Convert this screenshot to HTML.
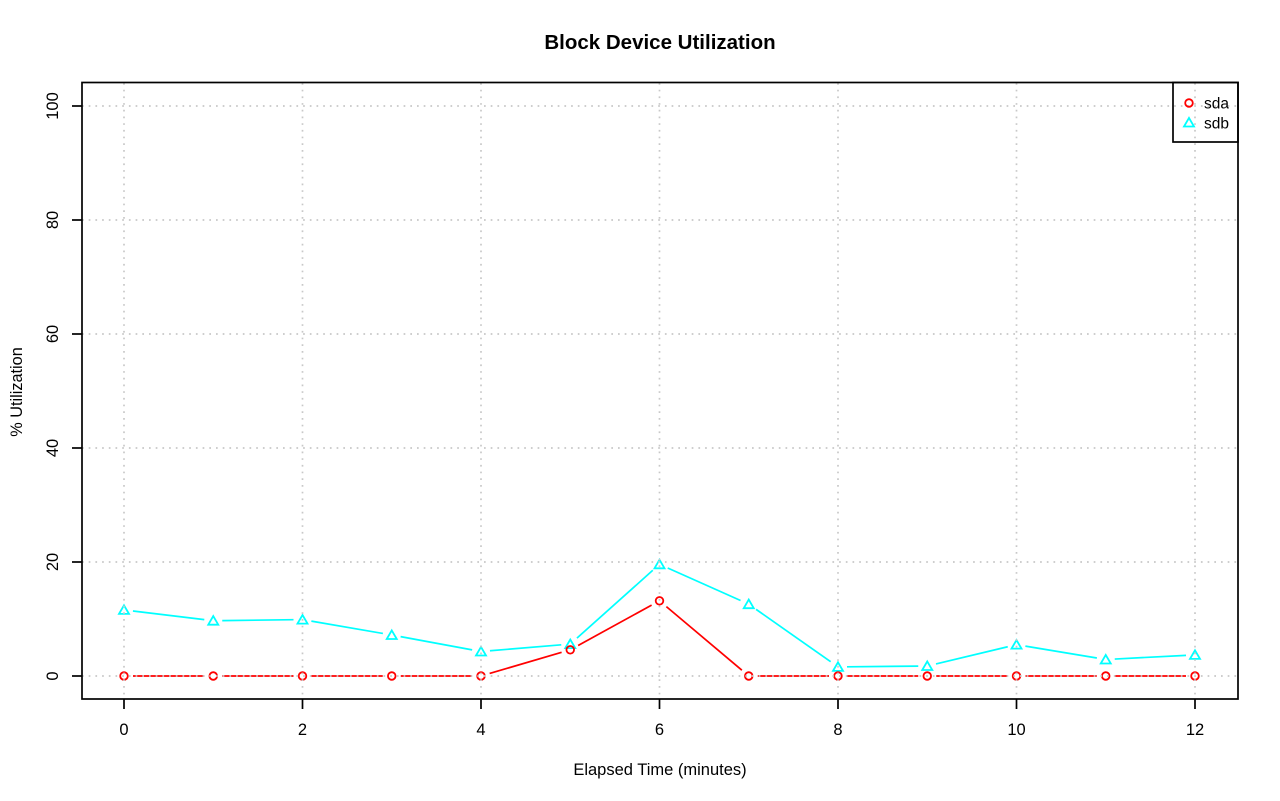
<!DOCTYPE html>
<html>
<head>
<meta charset="utf-8">
<style>
html,body{margin:0;padding:0;background:#fff;}
svg{display:block;}
text{font-family:"Liberation Sans",Arial,Helvetica,sans-serif;fill:#000;}
</style>
</head>
<body>
<svg width="1280" height="801" viewBox="0 0 1280 801" xmlns="http://www.w3.org/2000/svg">
<defs>
<path id="tri" d="M0,-4.6 L5,4 L-5,4 Z" fill="none" stroke="#00ffff" stroke-width="1.8"/>
<circle id="cir" cx="0" cy="0" r="3.8" fill="none" stroke="#ff0000" stroke-width="1.8"/>
</defs>
<rect width="1280" height="801" fill="#fff"/>

<!-- title -->
<text x="660" y="49" font-size="20.5" font-weight="bold" text-anchor="middle">Block Device Utilization</text>

<!-- sdb series (cyan) -->
<g stroke="#00ffff" stroke-width="1.7" fill="none">
<line x1="132.94" y1="610.98" x2="204.31" y2="619.62"/>
<line x1="222.25" y1="620.59" x2="293.5" y2="619.71"/>
<line x1="311.37" y1="621.13" x2="382.88" y2="633.47"/>
<line x1="400.60" y1="636.64" x2="472.15" y2="649.86"/>
<line x1="489.97" y1="650.76" x2="561.28" y2="644.84"/>
<line x1="576.96" y1="638.1" x2="652.79" y2="570.3"/>
<line x1="667.72" y1="567.97" x2="740.53" y2="600.53"/>
<line x1="756.11" y1="609.37" x2="830.64" y2="661.73"/>
<line x1="847.0" y1="666.81" x2="918.25" y2="666.09"/>
<line x1="936.00" y1="663.91" x2="1007.75" y2="646.74"/>
<line x1="1025.38" y1="646.13" x2="1096.87" y2="658.02"/>
<line x1="1114.74" y1="659.04" x2="1186.01" y2="655.36"/>
</g>
<use href="#tri" x="124" y="609.9"/>
<use href="#tri" x="213.25" y="620.7"/>
<use href="#tri" x="302.5" y="619.6"/>
<use href="#tri" x="391.75" y="635.0"/>
<use href="#tri" x="481" y="651.5"/>
<use href="#tri" x="570.25" y="644.1"/>
<use href="#tri" x="659.5" y="564.3"/>
<use href="#tri" x="748.75" y="604.2"/>
<use href="#tri" x="838" y="666.9"/>
<use href="#tri" x="927.25" y="666.0"/>
<use href="#tri" x="1016.5" y="644.65"/>
<use href="#tri" x="1105.75" y="659.5"/>
<use href="#tri" x="1195" y="654.9"/>

<!-- sda series (red) -->
<g stroke="#ff0000" stroke-width="1.7" fill="none">
<line x1="133" y1="676" x2="204.25" y2="676"/>
<line x1="222.25" y1="676" x2="293.5" y2="676"/>
<line x1="311.5" y1="676" x2="382.75" y2="676"/>
<line x1="400.75" y1="676" x2="472" y2="676"/>
<line x1="489.64" y1="673.46" x2="561.61" y2="652.34"/>
<line x1="578.14" y1="645.47" x2="651.61" y2="605.13"/>
<line x1="666.38" y1="606.6" x2="741.87" y2="670.2"/>
<line x1="757.75" y1="676" x2="829" y2="676"/>
<line x1="847" y1="676" x2="918.25" y2="676"/>
<line x1="936.25" y1="676" x2="1007.5" y2="676"/>
<line x1="1025.5" y1="676" x2="1096.75" y2="676"/>
<line x1="1114.75" y1="676" x2="1186" y2="676"/>
</g>
<use href="#cir" x="124" y="676"/>
<use href="#cir" x="213.25" y="676"/>
<use href="#cir" x="302.5" y="676"/>
<use href="#cir" x="391.75" y="676"/>
<use href="#cir" x="481" y="676"/>
<use href="#cir" x="570.25" y="649.8"/>
<use href="#cir" x="659.5" y="600.8"/>
<use href="#cir" x="748.75" y="676"/>
<use href="#cir" x="838" y="676"/>
<use href="#cir" x="927.25" y="676"/>
<use href="#cir" x="1016.5" y="676"/>
<use href="#cir" x="1105.75" y="676"/>
<use href="#cir" x="1195" y="676"/>

<!-- grid (dotted, drawn on top) -->
<g stroke="#c8c8c8" stroke-width="1.7" stroke-dasharray="1.7 5" fill="none">
<line x1="124" y1="83" x2="124" y2="699"/>
<line x1="302.5" y1="83" x2="302.5" y2="699"/>
<line x1="481" y1="83" x2="481" y2="699"/>
<line x1="659.5" y1="83" x2="659.5" y2="699"/>
<line x1="838" y1="83" x2="838" y2="699"/>
<line x1="1016.5" y1="83" x2="1016.5" y2="699"/>
<line x1="1195" y1="83" x2="1195" y2="699"/>
<line x1="82" y1="676" x2="1238" y2="676"/>
<line x1="82" y1="562" x2="1238" y2="562"/>
<line x1="82" y1="448" x2="1238" y2="448"/>
<line x1="82" y1="334" x2="1238" y2="334"/>
<line x1="82" y1="220" x2="1238" y2="220"/>
<line x1="82" y1="106" x2="1238" y2="106"/>
</g>

<!-- plot box -->
<rect x="82" y="82.5" width="1156" height="616.5" fill="none" stroke="#000" stroke-width="1.7"/>

<!-- x ticks -->
<g stroke="#000" stroke-width="1.7">
<line x1="124" y1="699" x2="124" y2="709"/>
<line x1="302.5" y1="699" x2="302.5" y2="709"/>
<line x1="481" y1="699" x2="481" y2="709"/>
<line x1="659.5" y1="699" x2="659.5" y2="709"/>
<line x1="838" y1="699" x2="838" y2="709"/>
<line x1="1016.5" y1="699" x2="1016.5" y2="709"/>
<line x1="1195" y1="699" x2="1195" y2="709"/>
</g>
<g font-size="16.5" text-anchor="middle">
<text x="124" y="735">0</text>
<text x="302.5" y="735">2</text>
<text x="481" y="735">4</text>
<text x="659.5" y="735">6</text>
<text x="838" y="735">8</text>
<text x="1016.5" y="735">10</text>
<text x="1195" y="735">12</text>
</g>

<!-- y ticks -->
<g stroke="#000" stroke-width="1.7">
<line x1="72" y1="676" x2="82" y2="676"/>
<line x1="72" y1="562" x2="82" y2="562"/>
<line x1="72" y1="448" x2="82" y2="448"/>
<line x1="72" y1="334" x2="82" y2="334"/>
<line x1="72" y1="220" x2="82" y2="220"/>
<line x1="72" y1="106" x2="82" y2="106"/>
</g>
<g font-size="16.5" text-anchor="middle">
<text transform="translate(58,676) rotate(-90)">0</text>
<text transform="translate(58,562) rotate(-90)">20</text>
<text transform="translate(58,448) rotate(-90)">40</text>
<text transform="translate(58,334) rotate(-90)">60</text>
<text transform="translate(58,220) rotate(-90)">80</text>
<text transform="translate(58,106) rotate(-90)">100</text>
</g>

<!-- axis labels -->
<text x="660" y="775" font-size="16.5" text-anchor="middle">Elapsed Time (minutes)</text>
<text transform="translate(22,392) rotate(-90)" font-size="16.3" text-anchor="middle">% Utilization</text>

<!-- legend -->
<rect x="1173" y="82.5" width="65" height="59.5" fill="none" stroke="#000" stroke-width="1.7"/>
<use href="#cir" x="1189" y="103"/>
<use href="#tri" x="1189" y="122.5"/>
<text x="1204" y="108.5" font-size="15.5">sda</text>
<text x="1204" y="128.5" font-size="15.5">sdb</text>
</svg>
</body>
</html>
